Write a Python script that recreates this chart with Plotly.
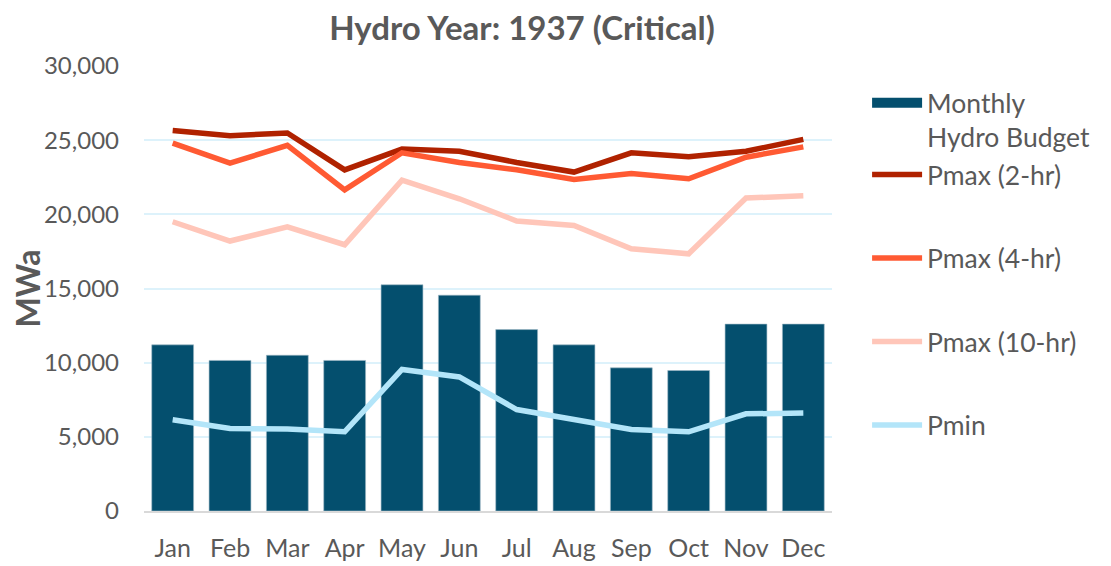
import plotly.graph_objects as go

months = ["Jan", "Feb", "Mar", "Apr", "May", "Jun", "Jul", "Aug", "Sep", "Oct", "Nov", "Dec"]
budget = [11200, 10150, 10500, 10150, 15250, 14550, 12230, 11200, 9650, 9470, 12600, 12600]
pmax_2hr = [25650, 25300, 25480, 23000, 24400, 24250, 23500, 22850, 24150, 23880, 24250, 25050]
pmax_4hr = [24800, 23450, 24650, 21650, 24150, 23500, 23000, 22350, 22750, 22400, 23850, 24550]
pmax_10hr = [19500, 18200, 19150, 17950, 22300, 21050, 19550, 19250, 17680, 17340, 21100, 21250]
pmin = [6150, 5560, 5520, 5340, 9540, 9040, 6840, 6200, 5500, 5340, 6550, 6600]

font_family = "Lato, 'Open Sans', sans-serif"
gray = "#595959"
bar_color = "#044F6E"

fig = go.Figure()
fig.add_trace(go.Bar(x=months, y=budget, name="Monthly<br>Hydro Budget",
                     marker=dict(color=bar_color, line=dict(color="#9fb8c6", width=0.6)),
                     showlegend=False))
# legend-only entry to show the wide rectangular swatch used for the bars
fig.add_trace(go.Scatter(x=[None], y=[None], name="Monthly<br>Hydro Budget", mode="lines",
                         line=dict(color=bar_color, width=16), legendgroup="a",
                         hoverinfo="skip"))
line_specs = [("Pmax (2-hr)", pmax_2hr, "#B02200", "a"),
              ("Pmax (4-hr)", pmax_4hr, "#FF5A33", "c"),
              ("Pmax (10-hr)", pmax_10hr, "#FFC6B9", "d"),
              ("Pmin", pmin, "#B3E5F9", "e")]
for name, vals, color, grp in line_specs:
    fig.add_trace(go.Scatter(x=months, y=vals, name=name, mode="lines",
                             line=dict(color=color, width=5.5), legendgroup=grp))

fig.update_layout(
    width=1103, height=558,
    margin=dict(l=136, r=279, t=58, b=55),
    paper_bgcolor="white", plot_bgcolor="white",
    font=dict(family=font_family, color=gray, size=24),
    title=dict(text="<b>Hydro Year: 1937 (Critical)</b>", x=0.466, xanchor="center",
               y=0.964, yanchor="middle", xref="container", yref="container",
               font=dict(size=33, color=gray, family=font_family)),
    bargap=0.27,
    showlegend=True,
    legend=dict(x=1.051, xanchor="left", y=0.9708, yanchor="top",
                font=dict(size=26.5, color=gray, family=font_family),
                tracegroupgap=46, itemwidth=50, valign="top",
                bgcolor="rgba(0,0,0,0)"),
    xaxis=dict(showgrid=False, showline=True, linecolor="#D9D9D9", linewidth=2,
               tickfont=dict(size=25, color=gray), ticks="", ticklabelstandoff=14,
               automargin=False),
    yaxis=dict(range=[0, 30000], tickvals=[0, 5000, 10000, 15000, 20000, 25000, 30000],
               tickformat=",", showgrid=True, gridcolor="#DDF2FB", gridwidth=2,
               zeroline=False, tickfont=dict(size=24, color=gray), ticklabelstandoff=24,
               automargin=False,
               title=dict(text="<b>MWa</b>", font=dict(size=32, color=gray), standoff=0)),
)

fig.write_html("out.html")
